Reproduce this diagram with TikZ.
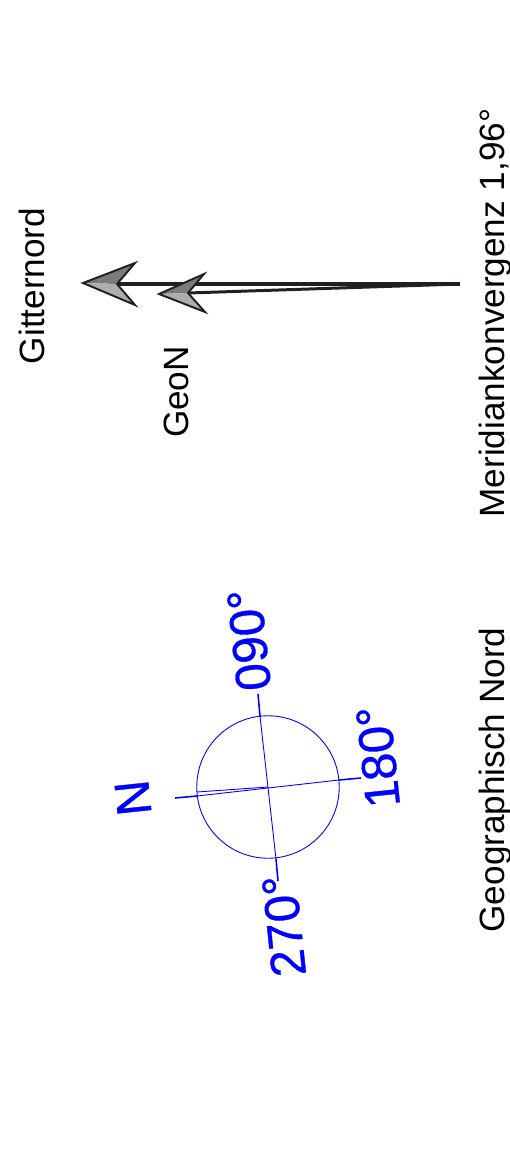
\documentclass[tikz,border=0pt]{standalone}
\usepackage{fontspec}
\setmainfont{Liberation Sans}
\newfontfamily\compassfont[FakeBold=0.7]{Liberation Sans}
\usepackage{tikz}
\usetikzlibrary{positioning}
\definecolor{shaftgrey}{HTML}{231F20}

\begin{document}
\begin{tikzpicture}[
    x=0.02cm, y=-0.02cm,
    label/.style={rotate=90, inner sep=0pt, font=\fontsize{20}{24}\selectfont},
    bluelabel/.style={rotate=96, inner sep=0pt, text=blue, font=\compassfont\fontsize{28}{32}\selectfont},
    tick/.style={draw=blue, line width=0.9pt},
    thin line/.style={draw=blue, line width=0.5pt},
    ring/.style={circle, draw=blue, line width=0.5pt, minimum size=2.85cm, inner sep=0pt},
    shaft/.style={draw=shaftgrey, line width=2.2pt},
    shaftb/.style={draw=shaftgrey, line width=1.7pt},
    headdark/.style={fill=black!52},
    headlight/.style={fill=black!32},
    headline/.style={draw=shaftgrey, line width=1.1pt, line join=miter}
]

\useasboundingbox (0,0) rectangle (510,1170);

\node[label] (gitter) at (32,286) {Gitternord};
\node[label] (geon) at (176,392) {GeoN};
\node[label] (meridian) at (495.5,313) {Meridiankonvergenz 1,96°};
\node[label] (geograph) at (495.5,780) {Geographisch Nord};

\coordinate (foot) at (460,284);
\coordinate (notchA) at (117,284);
\coordinate (tipA) at (83,283);
\coordinate (upA) at (135,263);
\coordinate (lowA) at (135,305);
\coordinate (notchB) at (188,293);
\coordinate (tipB) at (159,294);
\coordinate (upB) at (204,274);
\coordinate (lowB) at (205,312);

\draw[shaft] (foot) -- (notchA);
\fill[headdark] (tipA) -- (upA) -- (notchA) -- cycle;
\fill[headlight] (tipA) -- (lowA) -- (notchA) -- cycle;
\draw[headline] (tipA) -- (upA) -- (notchA) -- (lowA) -- cycle;

\draw[shaftb] (foot) -- (notchB);
\fill[headdark] (tipB) -- (upB) -- (notchB) -- cycle;
\fill[headlight] (tipB) -- (lowB) -- (notchB) -- cycle;
\draw[headline] (tipB) -- (upB) -- (notchB) -- (lowB) -- cycle;

\node[ring] (compass) at (268,787) {};

\coordinate (north) at (175,798);
\coordinate (south) at (361,778);
\coordinate (east) at (258,694);
\coordinate (west) at (278,881);
\coordinate (centre) at (268,787);
\coordinate (geonorth) at (197,792);
\coordinate (northring) at (197,796);
\coordinate (southring) at (339,780);
\coordinate (eastring) at (260,716);
\coordinate (westring) at (276,859);

\draw[tick] (north) -- (northring);
\draw[tick] (south) -- (southring);
\draw[tick] (east) -- (eastring);
\draw[tick] (west) -- (westring);
\draw[thin line] (northring) -- (southring);
\draw[thin line] (eastring) -- (westring);
\draw[thin line] (geonorth) -- (centre);

\node[bluelabel] (labN) at (133,798) {N};
\node[bluelabel] (lab090) at (249,640) {090°};
\node[bluelabel] (lab180) at (378,757) {180°};
\node[bluelabel] (lab270) at (284,926) {270°};

\end{tikzpicture}
\end{document}
